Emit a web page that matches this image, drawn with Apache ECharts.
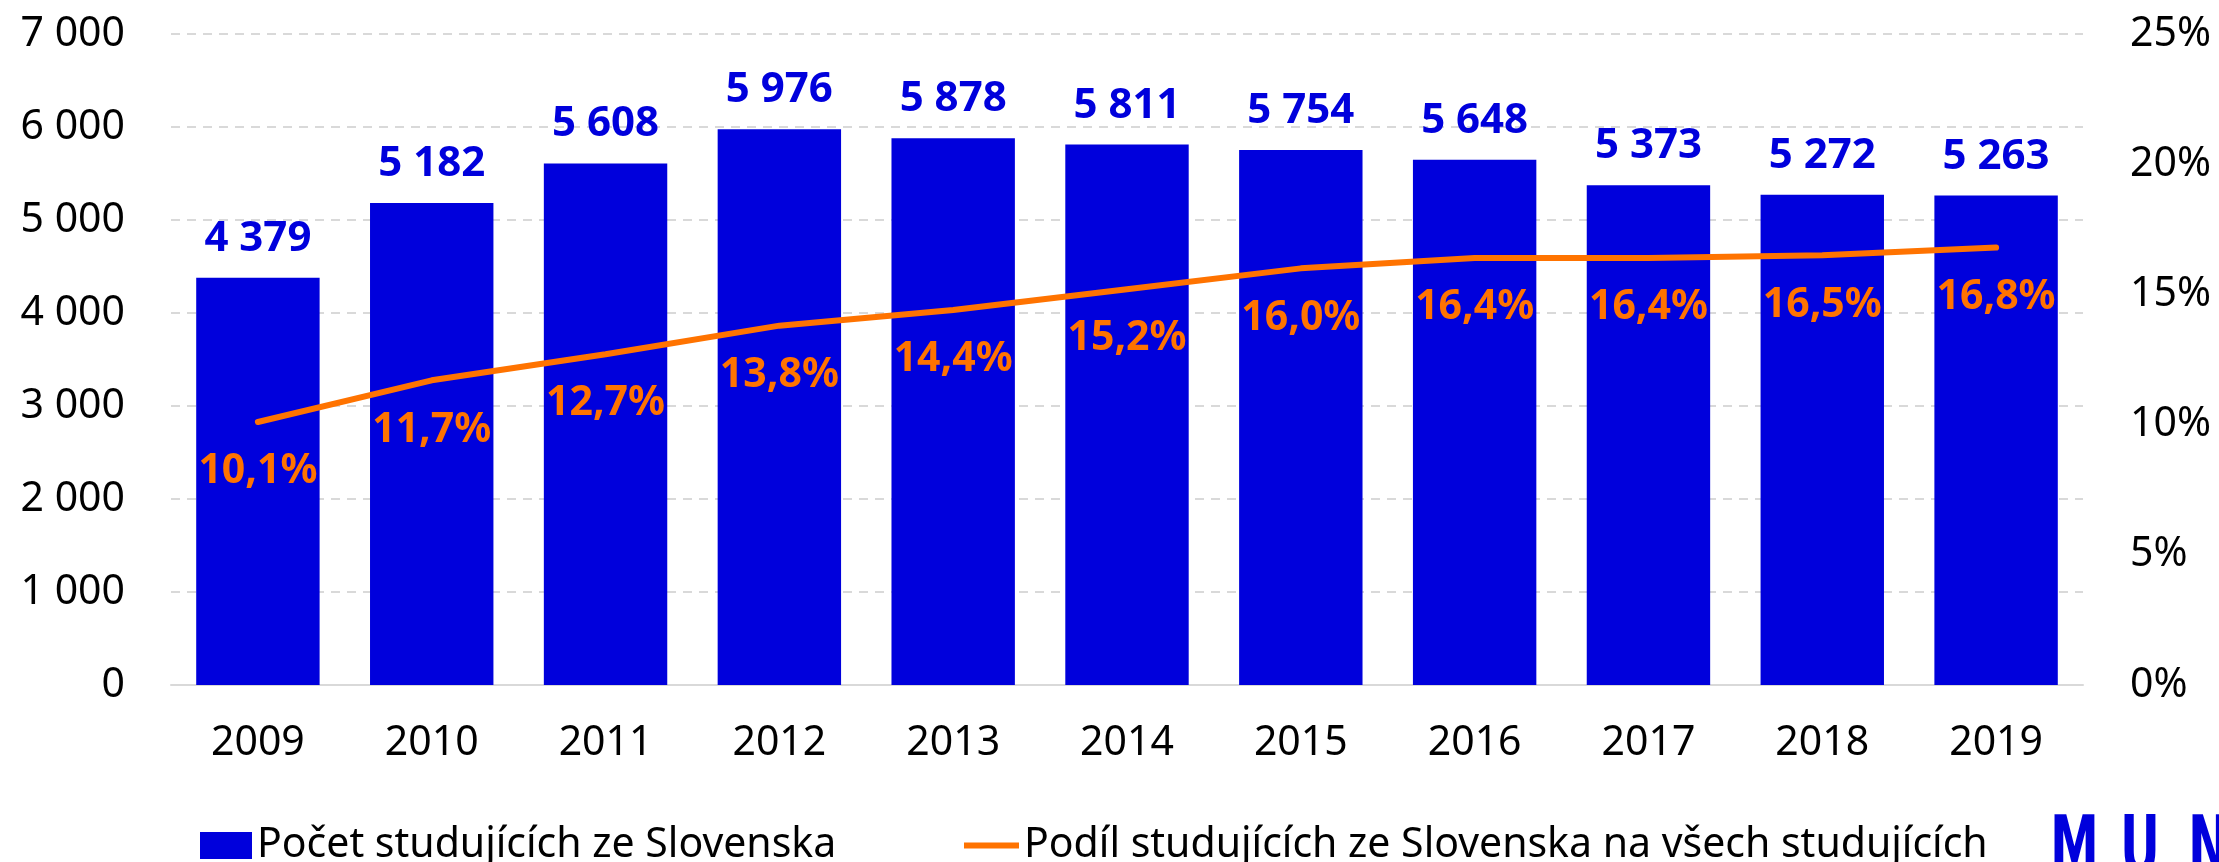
<!DOCTYPE html>
<html>
<head>
<meta charset="utf-8">
<script src="https://cdn.jsdelivr.net/npm/echarts@6/dist/echarts.min.js"></script>
<style>
  html, body { margin: 0; padding: 0; background: #fff; }
  #chart { width: 2219px; height: 862px; }
</style>
</head>
<body>
<div id="chart"></div>
<script>
var years = ['2009', '2010', '2011', '2012', '2013', '2014', '2015', '2016', '2017', '2018', '2019'];
var students = [4379, 5182, 5608, 5976, 5878, 5811, 5754, 5648, 5373, 5272, 5263];
var share = [10.1, 11.7, 12.7, 13.8, 14.4, 15.2, 16.0, 16.4, 16.4, 16.5, 16.8];
var barName = 'Počet studujících ze Slovenska';
var lineName = 'Podíl studujících ze Slovenska na všech studujících';

var BLUE = '#0000DC';
var ORANGE = '#FF7300';
var FONT = 'Noto Sans';

function spaced(v) {
  return String(v).replace(/\B(?=(\d{3})+(?!\d))/g, ' ');
}

var myChart = echarts.init(document.getElementById('chart'));

var option = {
  animation: false,
  textStyle: { fontFamily: FONT },
  grid: { left: 171, right: 136, top: 34, bottom: 177 },
  legend: [
    {
      data: [barName],
      left: 195, top: 820,
      icon: 'rect',
      itemWidth: 52, itemHeight: 27,
      textStyle: { fontSize: 41, color: '#000', fontFamily: FONT }
    },
    {
      data: [lineName],
      left: 959, top: 820,
      icon: 'rect',
      itemWidth: 55, itemHeight: 6,
      itemStyle: { color: ORANGE, opacity: 1 },
      textStyle: { fontSize: 41, color: '#000', fontFamily: FONT }
    }
  ],
  xAxis: {
    type: 'category',
    data: years,
    axisLine: { lineStyle: { color: '#d9d9d9', width: 2 } },
    axisTick: { show: false },
    axisLabel: { fontSize: 41, color: '#000', margin: 38 }
  },
  yAxis: [
    {
      type: 'value', min: 0, max: 7000, interval: 1000,
      axisLabel: { fontSize: 41, color: '#000', margin: 46, formatter: function (v) { return spaced(v); } },
      splitLine: { lineStyle: { color: '#d9d9d9', width: 2, type: [9, 7] } }
    },
    {
      type: 'value', min: 0, max: 25, interval: 5,
      axisLabel: { fontSize: 41, color: '#000', margin: 47, formatter: '{value}%' },
      splitLine: { show: false }
    }
  ],
  series: [
    {
      name: barName,
      type: 'bar',
      data: students,
      barCategoryGap: '29%',
      itemStyle: { color: BLUE },
      label: {
        show: true, position: 'top', distance: 18,
        fontSize: 42, fontWeight: 'bold', color: BLUE,
        formatter: function (p) { return spaced(p.value); }
      }
    },
    {
      name: lineName,
      type: 'line',
      yAxisIndex: 1,
      data: share,
      symbol: 'circle',
      symbolSize: 2,
      showSymbol: true,
      lineStyle: { color: ORANGE, width: 6, cap: 'round' },
      itemStyle: { color: 'rgba(0,0,0,0)' },
      label: {
        show: true, position: 'bottom', distance: 28,
        fontSize: 41, fontWeight: 'bold', color: ORANGE,
        formatter: function (p) { return p.value.toFixed(1).replace('.', ',') + '%'; }
      },
      labelLayout: { hideOverlap: false }
    }
  ],
  graphic: [
    { type: 'text', left: 2050, top: 812, style: { text: 'M', fontSize: 82, fontWeight: 'bold', fontFamily: 'DejaVu Sans', fill: BLUE }, scaleX: 0.6 },
    { type: 'text', left: 2120, top: 812, style: { text: 'U', fontSize: 82, fontWeight: 'bold', fontFamily: 'DejaVu Sans', fill: BLUE }, scaleX: 0.6 },
    { type: 'text', left: 2188, top: 812, style: { text: 'N', fontSize: 82, fontWeight: 'bold', fontFamily: 'DejaVu Sans', fill: BLUE }, scaleX: 0.6 }
  ]
};

myChart.setOption(option);
</script>
</body>
</html>
